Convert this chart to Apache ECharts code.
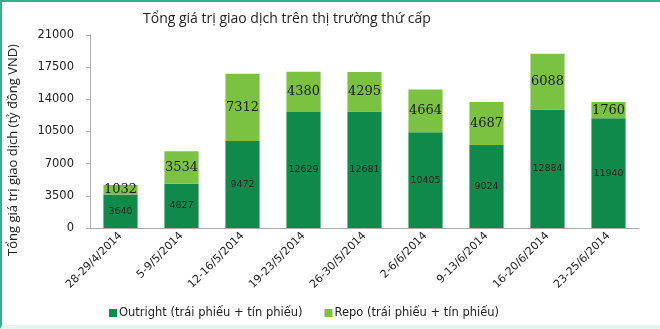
<!DOCTYPE html>
<html><head><meta charset="utf-8">
<script src="https://cdn.jsdelivr.net/npm/echarts@6/dist/echarts.min.js"></script>
<style>
html,body{margin:0;padding:0;background:#fff;}
#wrap{position:absolute;left:0;top:0;width:660px;height:329px;box-sizing:border-box;border-top:2px solid #2fb38c;border-left:2px solid #2fb38c;border-bottom:4px solid #e3f6f0;}
#c{position:absolute;left:0;top:0;width:660px;height:329px;}
</style></head>
<body><div id="wrap"></div><div id="c"></div>
<script>
const categories = ['28-29/4/2014','5-9/5/2014','12-16/5/2014','19-23/5/2014','26-30/5/2014','2-6/6/2014','9-13/6/2014','16-20/6/2014','23-25/6/2014'];
const outright = [3640, 4827, 9472, 12629, 12681, 10405, 9024, 12884, 11940];
const repo = [1032, 3534, 7312, 4380, 4295, 4664, 4687, 6088, 1760];
const yTicks = [0, 3500, 7000, 10500, 14000, 17500, 21000];

const chart = echarts.init(document.getElementById('c'), null, {renderer:'canvas'});
chart.setOption({
  animation:false,
  title:{text:'Tổng giá trị giao dịch trên thị trường thứ cấp', left:138, top:7,
    textStyle:{fontFamily:'Open Sans', fontSize:14, fontWeight:'normal', color:'#222'}},
  graphic:[{type:'text', x:13, y:150, rotation:Math.PI/2,
    style:{text:'Tổng giá trị giao dịch (tỷ đồng VND)', fontFamily:'Open Sans', fontSize:13, fill:'#222',
      align:'center', verticalAlign:'middle'}}],
  legend:{bottom:5, left:104, itemGap:22, itemWidth:8, itemHeight:8, icon:'rect',
    textStyle:{fontFamily:'DejaVu Sans', fontSize:11.5, color:'#222', padding:[0,0,0,-3]}},
  grid:{left:90, right:21, top:35, bottom:101},
  xAxis:{type:'category', data:categories,
    axisLine:{lineStyle:{color:'#aaa'}}, axisTick:{show:false},
    axisLabel:{rotate:45, interval:0, fontFamily:'DejaVu Sans', fontSize:11, color:'#222', margin:6}},
  yAxis:{type:'value', min:0, max:21000, interval:3500,
    axisLine:{show:true, lineStyle:{color:'#aaa'}}, axisTick:{show:true, length:4, lineStyle:{color:'#aaa'}},
    splitLine:{show:false},
    axisLabel:{fontFamily:'DejaVu Sans', fontSize:11.5, color:'#222', margin:16,
      formatter:v=>yTicks.includes(v)?String(v):''}},
  series:[
    {name:'Outright (trái phiếu + tín phiếu)', type:'bar', stack:'t', data:outright, barWidth:'56%',
      itemStyle:{color:'#0f8a4b'},
      label:{show:true, position:'inside', fontFamily:'DejaVu Sans', fontSize:9.5, color:'#222'}},
    {name:'Repo (trái phiếu + tín phiếu)', type:'bar', stack:'t', data:repo, barWidth:'56%',
      itemStyle:{color:'#7cc242'},
      label:{show:true, position:'inside', fontFamily:'DejaVu Serif', fontSize:13, color:'#1a1a1a'}}
  ]
});
</script></body></html>
